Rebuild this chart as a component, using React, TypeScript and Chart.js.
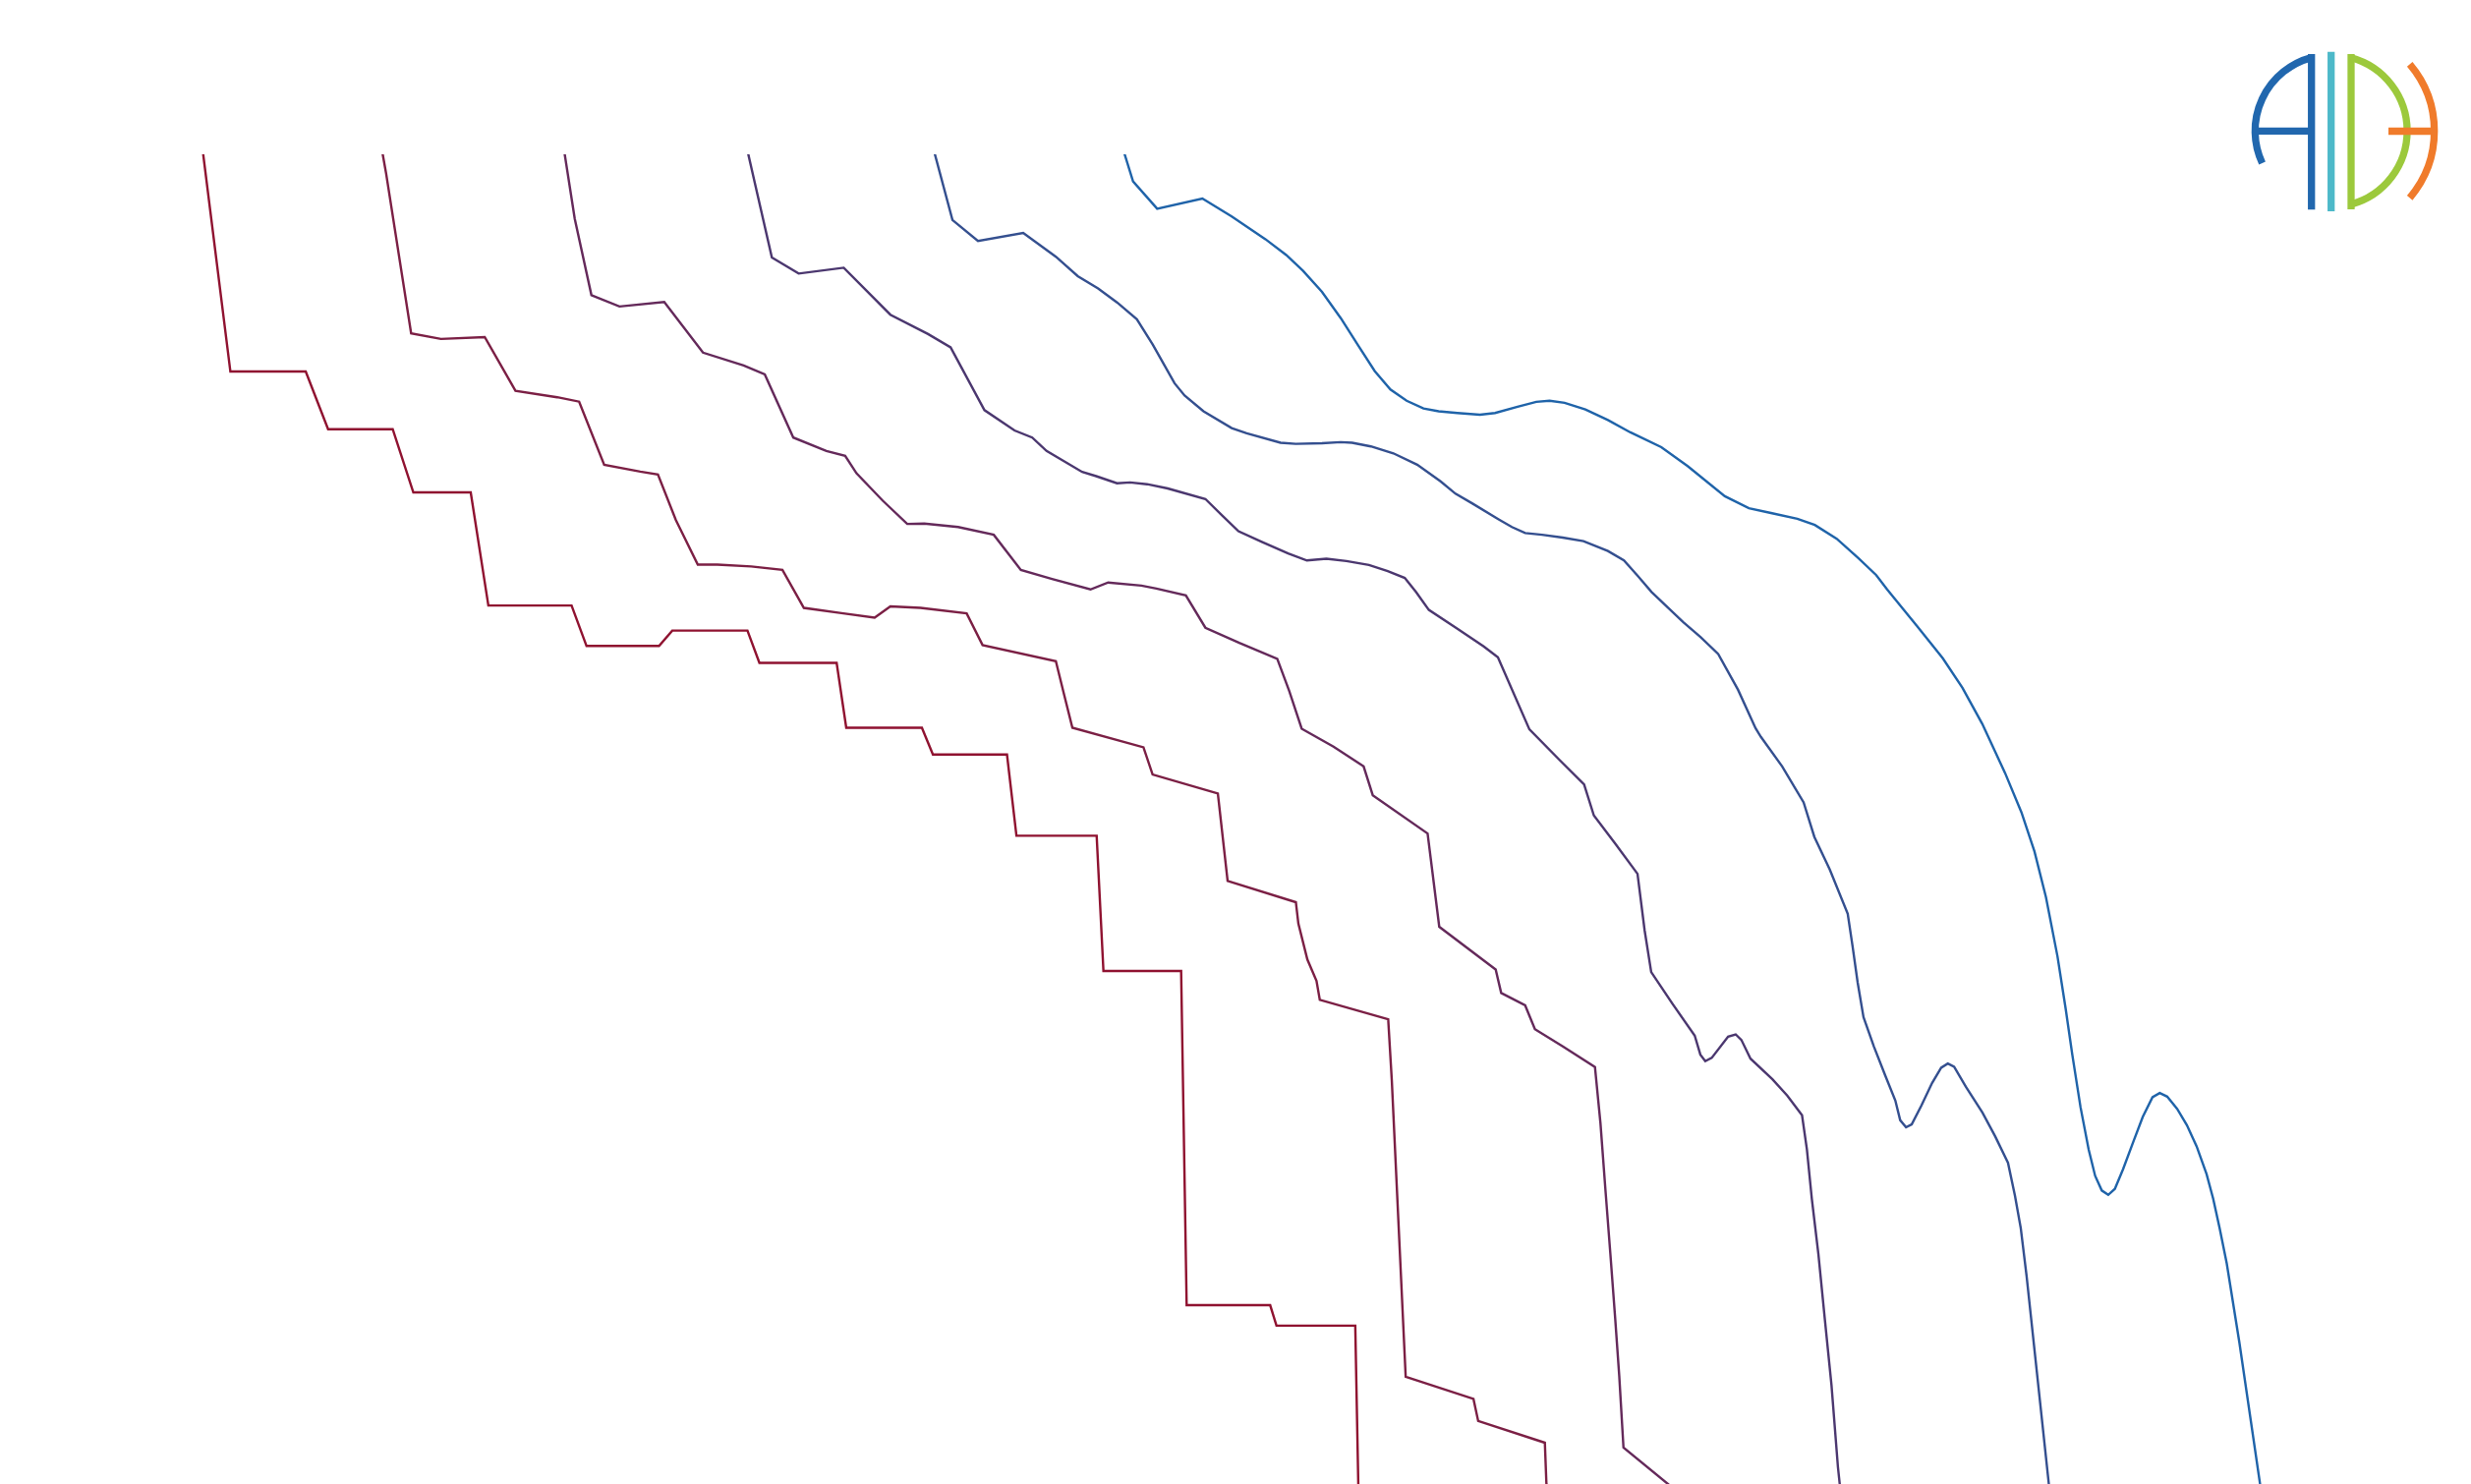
import { useEffect, useRef } from 'react';
import { Chart, registerables } from 'chart.js';

Chart.register(...registerables);

// [position, depth]; depth grows downwards
const trace1 = [
  [128.9, 97.7], [146.2, 235.9], [194, 235.9], [208.2, 272.5], [249.2, 272.5], [262.3, 312.6],
  [298.7, 312.6], [309.9, 384.4], [362.7, 384.4], [372.2, 410.1], [418.2, 410.1], [426.6, 400.3],
  [474.3, 400.3], [481.9, 420.8], [530.9, 420.8], [537, 462], [585, 462], [592, 479], [639, 479],
  [645, 530.5], [695.9, 530.5], [700.2, 616.4], [749.5, 616.4], [753, 828.5], [806, 828.5],
  [810, 841.5], [860, 841.5], [862, 946],
];

const trace2 = [
  [242.8, 97.7], [245, 110.1], [260.9, 211.6], [279.8, 215.2], [307.6, 214], [327.1, 248.1],
  [353.6, 252.2], [367.5, 255], [383.4, 295.1], [406.3, 299.4], [417.5, 301.2], [428.9, 330.2],
  [442.8, 358.4], [455.2, 358.4], [476.7, 359.6], [496.5, 361.8], [510.1, 385.9], [534, 389.2],
  [555, 392.1], [565, 385], [584.1, 385.9], [613.4, 389.4], [623.5, 409.5], [670, 419.7],
  [675, 440], [680.5, 462], [725.6, 474.4], [731.4, 491.7], [772.8, 503.7], [779, 559.2],
  [822.3, 572.7], [823.9, 586.3], [829.6, 609.1], [835.4, 622.6], [837.5, 634.7], [880.9, 647],
  [883.2, 686], [892, 874], [935, 888], [938, 902], [980.3, 915.8], [981.3, 941.8], [981.5, 946],
];

const trace3 = [
  [358.3, 97.7], [364.7, 138.8], [375.3, 187.4], [393.1, 194.6], [421.5, 191.7], [446.1, 223.9],
  [471.9, 232.1], [485.3, 237.7], [503.4, 277.8], [524.4, 286.3], [536.3, 289.4], [543.5, 300.5],
  [560.2, 317.9], [575.7, 332.6], [586.5, 332.4], [608, 334.6], [630.6, 339.5], [647.8, 361.8],
  [667.6, 367.6], [692, 374.2], [703.2, 369.8], [724.3, 371.8], [733.8, 373.6], [752.5, 378],
  [764.9, 398.5], [786.4, 408.1], [810.5, 418.2], [818.1, 438.7], [826, 462.6], [846.2, 474],
  [865.3, 486.5], [871.1, 504.8], [905.9, 529.1], [913.3, 588.3], [949.1, 615.4], [952.6, 630.3],
  [967.8, 638.2], [974, 653.3], [991.7, 664.3], [1012.1, 677.3], [1015.6, 713.1],
  [1018.7, 754.7], [1021.9, 796.2], [1025, 837.8], [1027.5, 873.2], [1030.2, 918.9],
  [1058.2, 941.8], [1063.3, 946],
];

const trace4 = [
  [474.8, 97.8], [479, 116.3], [489.8, 163.5], [506.8, 173.7], [535.4, 170], [565, 199.8],
  [588.9, 212.1], [603.2, 220.5], [624.7, 260.4], [643.8, 273.3], [655, 277.8], [664.1, 286.3],
  [686.7, 299.6], [695.6, 302.3], [708.8, 306.8], [717.1, 306.3], [727.9, 307.4], [741, 310.1],
  [764.9, 316.8], [775.6, 327.3], [785.9, 337.3], [800.7, 344], [817.4, 351.3], [829.3, 355.8],
  [841.7, 354.7], [854.4, 356.2], [868.7, 358.7], [880.6, 362.5], [891.4, 366.9], [898.5, 375.8],
  [906.7, 387.2], [924.8, 399.2], [941.5, 410.4], [950.5, 417.2], [970.5, 463], [989.6, 482.4],
  [1005.2, 498], [1011.4, 517.7], [1024.9, 535.4], [1039.1, 554.7], [1043.6, 590.5],
  [1047.8, 617.1], [1061.3, 637.2], [1075.4, 657.4], [1079, 669.5], [1082.1, 673.6],
  [1086.2, 671.5], [1096.6, 658], [1101.4, 656.6], [1105, 660.1], [1110.8, 672], [1124.7, 685.1],
  [1134.1, 695.4], [1143.5, 707.9], [1146.6, 729.7], [1149.7, 760.9], [1153.9, 796.2],
  [1158, 837.8], [1162.2, 879.4], [1166.3, 931.4], [1167.4, 941.8], [1167.8, 946],
];

const trace5 = [
  [593.2, 97.8], [604.4, 139.7], [620.6, 153], [649.3, 147.9], [670, 163], [683.9, 175.3],
  [696.8, 183.1], [708.8, 192], [721.4, 202.7], [731.5, 218.8], [745.3, 243.3], [751.7, 251.1],
  [763.7, 261.1], [781.6, 271.8], [791.1, 275.1], [812.6, 281.1], [822.2, 281.8], [838.9, 281.4],
  [850.8, 280.7], [858, 281.1], [869.9, 283.4], [884.2, 287.8], [899.3, 295], [914.1, 305.6],
  [923.6, 313.4], [934.4, 319.7], [951, 329.7], [959.4, 334.6], [967.8, 338.4], [978.5, 339.5],
  [991.6, 341.3], [1004.8, 343.5], [1020.3, 349.8], [1030.5, 355.8], [1039.4, 365.8],
  [1048, 375.8], [1068, 394.9], [1079.2, 404.5], [1090.3, 415.2], [1102.9, 437.9],
  [1114, 462.3], [1117.4, 467.8], [1130.9, 486.5], [1144.5, 509.4], [1151.3, 531.2],
  [1161.1, 552], [1172.5, 580.1], [1175.6, 600.9], [1178.8, 623.7], [1182.5, 645.6],
  [1189.1, 664.3], [1196.4, 683], [1202.7, 698.6], [1205.8, 711.1], [1209.5, 715.6],
  [1213.1, 713.7], [1219.3, 701.7], [1226, 687.5], [1231.8, 677.8], [1236, 675.1],
  [1240, 677.2], [1247.4, 689.8], [1258, 706.3], [1266.1, 721.4], [1274.2, 738.1],
  [1278.6, 758.9], [1282.3, 779.6], [1286, 810], [1300, 941], [1300.5, 946],
];

const trace6 = [
  [713.6, 97.8], [719, 115.2], [734.3, 132.5], [763, 126.1], [781.6, 137.4], [803, 151.9],
  [816.2, 161.9], [826.9, 172], [838.9, 185.3], [850.8, 202], [861.5, 218.8], [872.3, 235.5],
  [882.3, 247.3], [892.6, 254.4], [903.3, 259.3], [912.9, 261.1], [924.8, 262.2], [939.1, 263.3],
  [948.7, 262.2], [963, 258.2], [974.9, 255.1], [983.3, 254.4], [992.8, 255.7], [1006, 260],
  [1020.3, 266.7], [1034.6, 274.5], [1054.2, 283.9], [1070.9, 295.9], [1094.5, 315],
  [1109.8, 322.6], [1123.8, 325.7], [1140.5, 329.3], [1151.6, 333.3], [1165.5, 342],
  [1179.4, 354.4], [1190.6, 365.1], [1197.5, 374.2], [1216.2, 397.1], [1232.8, 417.9],
  [1245.3, 436.6], [1257.8, 459.4], [1272.3, 490.6], [1282.7, 515.6], [1291, 540.5],
  [1298.3, 569.6], [1305.6, 607.1], [1310.8, 640.4], [1315, 669.5], [1320.2, 702.7],
  [1325.4, 729.8], [1329.5, 746.4], [1333.7, 755.7], [1337.8, 758.5], [1342, 754.7],
  [1347.2, 742.2], [1353.4, 725.6], [1359.7, 709], [1365.9, 696.5], [1370.5, 693.8],
  [1375.2, 696.1], [1381.5, 703.8], [1387.7, 714.2], [1393.9, 727.7], [1400.2, 745.3],
  [1404.4, 760.9], [1408.5, 779.6], [1413, 802], [1421, 852], [1434, 941], [1434.7, 946],
];

const traces = [trace1, trace2, trace3, trace4, trace5, trace6];
const traceColors = ['#8f1230', '#7b1f44', '#64295a', '#4b376f', '#344f8f', '#1f63a9'];

const Logo = () => (
  <svg
    width={2514}
    height={1510}
    viewBox="0 0 2514 1510"
    style={{ position: 'absolute', left: 0, top: 0, pointerEvents: 'none' }}
  >
    <g fill="none" strokeWidth={7.3}>
      <path d="M 2351.7 58.6 A 77.3 77.3 0 0 0 2301.6 166" stroke="#2167ae" />
      <line x1={2351.7} y1={55} x2={2351.7} y2={213.3} stroke="#2167ae" />
      <line x1={2296} y1={133.3} x2={2352} y2={133.3} stroke="#2167ae" />
      <line x1={2371.7} y1={52.7} x2={2371.7} y2={215} stroke="#4db9c9" />
      <line x1={2392} y1={55} x2={2392} y2={213} stroke="#9cc93c" />
      <path d="M 2392 58.7 A 77.3 77.3 0 0 1 2392 207.9" stroke="#9cc93c" />
      <path d="M 2451.7 65.3 A 105 105 0 0 1 2451.7 201.3" stroke="#f07b2b" />
      <line x1={2430} y1={133.5} x2={2478.3} y2={133.5} stroke="#f07b2b" />
    </g>
  </svg>
);

const App = () => {
  const canvasRef = useRef<HTMLCanvasElement | null>(null);
  const chartRef = useRef<Chart | null>(null);

  useEffect(() => {
    document.body.style.margin = '0';
    document.body.style.overflow = 'hidden';

    const ctx = canvasRef.current!.getContext('2d')!;
    if (chartRef.current) {
      chartRef.current.destroy();
    }

    chartRef.current = new Chart(ctx, {
      type: 'line',
      data: {
        datasets: traces.map((trace, i) => ({
          label: `trace ${i + 1}`,
          data: trace.map(([x, y]) => ({ x, y })),
          borderColor: traceColors[i],
          borderWidth: 2.4,
          pointRadius: 0,
          tension: 0,
          fill: false,
          borderJoinStyle: 'miter',
        })),
      },
      options: {
        animation: false,
        responsive: false,
        layout: { padding: { top: 157, left: 0, right: 0, bottom: 0 } },
        scales: {
          x: { type: 'linear', min: 0, max: 1568, display: false },
          y: { type: 'linear', min: 98, max: 942, reverse: true, display: false },
        },
        plugins: {
          legend: { display: false },
          tooltip: { enabled: false },
        },
      },
    });

    return () => {
      if (chartRef.current) {
        chartRef.current.destroy();
        chartRef.current = null;
      }
    };
  }, []);

  return (
    <div style={{ position: 'relative', width: 2514, height: 1510, background: '#fff' }}>
      <canvas ref={canvasRef} width={2514} height={1510} />
      <Logo />
    </div>
  );
};

export default App;
